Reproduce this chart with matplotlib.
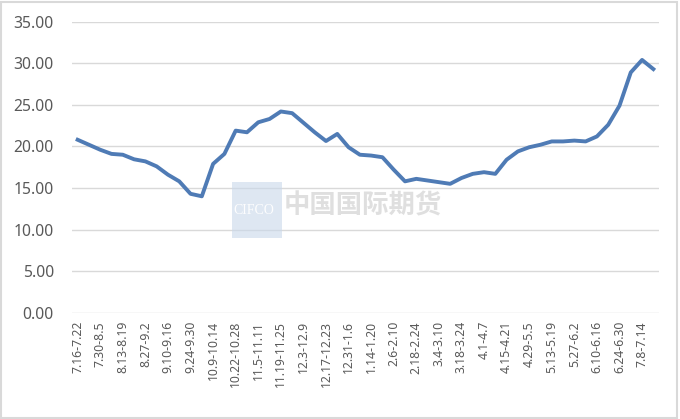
import matplotlib
matplotlib.use("Agg")
import matplotlib.pyplot as plt
from matplotlib.patches import Rectangle

plt.rcParams['font.family'] = ['Noto Sans', 'Noto Sans CJK SC', 'DejaVu Sans']

values = [20.8, 20.2, 19.6, 19.1, 19.0, 18.45, 18.2, 17.6, 16.6, 15.8,
          14.3, 14.0, 17.9, 19.1, 21.9, 21.7, 22.9, 23.3, 24.2, 24.0,
          22.85, 21.7, 20.65, 21.5, 19.9, 19.0, 18.9, 18.7, 17.2, 15.8,
          16.1, 15.9, 15.7, 15.5, 16.2, 16.7, 16.9, 16.7, 18.4, 19.4,
          19.9, 20.2, 20.6, 20.6, 20.7, 20.6, 21.2, 22.6, 24.9, 28.9,
          30.4, 29.3]

tick_labels = ["7.16-7.22", "7.30-8.5", "8.13-8.19", "8.27-9.2", "9.10-9.16",
               "9.24-9.30", "10.9-10.14", "10.22-10.28", "11.5-11.11",
               "11.19-11.25", "12.3-12.9", "12.17-12.23", "12.31-1.6",
               "1.14-1.20", "2.6-2.10", "2.18-2.24", "3.4-3.10", "3.18-3.24",
               "4.1-4.7", "4.15-4.21", "4.29-5.5", "5.13-5.19", "5.27-6.2",
               "6.10-6.16", "6.24-6.30", "7.8-7.14"]
y_ticks = [0, 5, 10, 15, 20, 25, 30, 35]

fig = plt.figure(figsize=(6.8, 4.19), dpi=100)
ax = fig.add_axes([72/680, (419-312.7)/419, (659-72)/680, (312.7-21.7)/419])

x = list(range(len(values)))
ax.plot(x, values, color='#4F7BB5', lw=2.8, solid_joinstyle='round', zorder=3)

ax.set_xlim(-0.5, len(values) - 0.5)
ax.set_ylim(0, 35)
ax.set_yticks(y_ticks)
ax.set_yticklabels([f"{v:.2f}" for v in y_ticks], fontsize=11.3, color='#595959')
ax.set_xticks(list(range(0, len(values), 2)))
ax.set_xticklabels(tick_labels, rotation=90, fontsize=8.8, color='#595959')
ax.tick_params(length=0, pad=6)
ax.tick_params(axis='y', pad=13)
ax.grid(axis='y', color='#D9D9D9', lw=1)
ax.set_axisbelow(True)
for s in ax.spines.values():
    s.set_visible(False)

# faint CIFCO watermark
fig.patches.append(Rectangle((232/680, 1-238/419), 50/680, 56/419, transform=fig.transFigure,
                             facecolor='#C9D8EA', alpha=0.6, edgecolor='none', zorder=0))
fig.text(233/680, 1-210/419, "CIFCO", fontsize=10, color='white', alpha=0.95,
         family=['Liberation Serif', 'DejaVu Serif'], va='center', ha='left', zorder=1)
fig.text(284/680, 1-206/419, "中国国际期货", fontsize=19, color='#D8D8D8', alpha=0.8,
         family=['Noto Sans CJK SC'], va='center', ha='left', zorder=1, weight='bold')

# figure border
fig.patches.append(Rectangle((0.002, 0.003), 0.994, 0.993, transform=fig.transFigure,
                             facecolor='none', edgecolor='#D9D9D9', lw=1.5))

fig.savefig("out.png", dpi=100)
